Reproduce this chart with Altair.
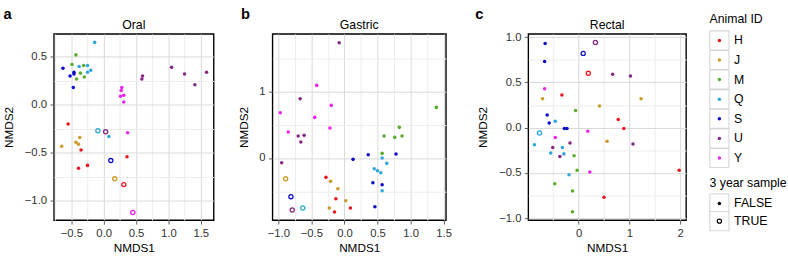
import altair as alt
import pandas as pd

FONT = "Liberation Sans"

animals = ["H", "J", "M", "Q", "S", "U", "Y"]
colors = ["#E8161E", "#CC9A28", "#58AD2A", "#2FA6DC", "#0B0BC8", "#862787", "#EE22EE"]

# ---- Oral (a) ----
oral_animal = ["H", "H", "H", "H", "H", "H",
               "J", "J", "J", "J", "J",
               "M", "M", "M", "M", "M", "M",
               "Q", "Q", "Q", "Q", "Q", "Q", "Q",
               "S", "S", "S", "S", "S", "S",
               "U", "U", "U", "U", "U", "U", "U",
               "Y", "Y", "Y", "Y", "Y", "Y", "Y"]
oral_nmds1 = [-0.55, -0.35, -0.39, -0.25, 0.36, 0.31,
              -0.65, -0.37, -0.43, -0.39, 0.17,
              -0.43, -0.49, -0.31, -0.36, -0.30, -0.42,
              -0.14, -0.38, -0.25, -0.25, -0.20, 0.08, -0.09,
              -0.63, -0.52, -0.46, -0.46, -0.47, 0.11,
              0.60, 0.59, 1.05, 1.25, 1.41, 1.59, 0.03,
              0.28, 0.27, 0.26, 0.31, 0.31, 0.37, 0.45]
oral_nmds2 = [-0.20, -0.47, -0.66, -0.63, -0.54, -0.83,
              -0.43, -0.34, -0.39, -0.41, -0.77,
              0.52, 0.42, 0.41, 0.33, 0.29, 0.27,
              0.65, 0.40, 0.41, 0.34, 0.36, -0.33, -0.27,
              0.38, 0.30, 0.34, 0.32, 0.18, -0.58,
              0.30, 0.27, 0.39, 0.32, 0.21, 0.34, -0.28,
              0.18, 0.15, 0.09, 0.10, 0.03, -0.29, -1.12]
oral_3yr = [False, False, False, False, False, True,
            False, False, False, False, True,
            False, False, False, False, False, False,
            False, False, False, False, False, False, True,
            False, False, False, False, False, True,
            False, False, False, False, False, False, True,
            False, False, False, False, False, False, True]

# ---- Gastric (b) ----
gastric_animal = ["H", "H", "H", "H",
                  "J", "J", "J", "J", "J",
                  "M", "M", "M", "M", "M", "M",
                  "Q", "Q", "Q", "Q", "Q", "Q", "Q",
                  "S", "S", "S", "S", "S", "S", "S",
                  "U", "U", "U", "U", "U", "U", "U",
                  "Y", "Y", "Y", "Y", "Y", "Y"]
gastric_nmds1 = [-0.28, -0.13, -0.15, 0.09,
                 -0.21, -0.10, 0.02, -0.23, -0.89,
                 1.39, 0.83, 0.60, 0.76, 0.87, 0.57,
                 0.57, 0.64, 0.45, 0.50, 0.55, 0.57, -0.63,
                 0.13, 0.36, 0.78, 0.43, 0.57, 0.46, -0.81,
                 -0.08, -0.67, -0.70, -0.61, -0.66, -0.95, -0.79,
                 -0.42, -0.97, -0.20, -0.45, -0.85, -0.22]
gastric_nmds2 = [-0.29, -0.61, -0.81, -0.75,
                 -0.35, -0.46, -0.64, -0.75, -0.31,
                 0.76, 0.46, 0.33, 0.31, 0.33, 0.07,
                 0.00, -0.08, -0.16, -0.19, -0.22, -0.49, -0.75,
                 -0.02, 0.05, 0.06, -0.37, -0.40, -0.73, -0.58,
                 1.73, 0.89, 0.33, 0.34, 0.24, -0.07, -0.78,
                 1.09, 0.68, 0.79, 0.61, 0.39, 0.45]
gastric_3yr = [False, False, False, False,
               False, False, False, False, True,
               False, False, False, False, False, False,
               False, False, False, False, False, False, True,
               False, False, False, False, False, False, True,
               False, False, False, False, False, False, True,
               False, False, False, False, False, False]

# ---- Rectal (c) ----
rectal_animal = ["H", "H", "H", "H", "H", "H",
                 "J", "J", "J", "J",
                 "M", "M", "M", "M", "M", "M",
                 "Q", "Q", "Q", "Q", "Q", "Q", "Q",
                 "S", "S", "S", "S", "S", "S", "S",
                 "U", "U", "U", "U", "U", "U", "U",
                 "Y", "Y", "Y", "Y"]
rectal_nmds1 = [-0.33, 0.78, 0.89, 1.98, 0.50, 0.19,
                -0.71, 1.23, 0.41, 0.56,
                -0.06, -0.09, -0.03, -0.47, -0.12, -0.12,
                -0.46, -0.87, -0.32, -0.55, -0.29, -0.19, -0.77,
                -0.66, -0.67, -0.62, -0.58, -0.28, -0.23, 0.09,
                0.67, 1.02, 1.07, -0.17, -0.51, -0.37, 0.33,
                -0.67, -0.46, 0.18, 0.22]
rectal_nmds2 = [0.36, 0.09, -0.01, -0.47, -0.77, 0.60,
                0.32, 0.32, 0.24, -0.15,
                0.19, -0.31, -0.47, -0.62, -0.70, -0.93,
                0.07, -0.19, -0.22, -0.28, -0.29, -0.52, -0.06,
                0.93, 0.73, 0.14, 0.05, -0.01, -0.01, 0.82,
                0.59, 0.57, -0.18, -0.17, -0.22, -0.32, 0.94,
                0.43, -0.11, -0.04, -0.49]
rectal_3yr = [False, False, False, False, False, True,
              False, False, False, False,
              False, False, False, False, False, False,
              False, False, False, False, False, False, True,
              False, False, False, False, False, False, True,
              False, False, False, False, False, False, True,
              False, False, False, False]

year_levels = ["FALSE", "TRUE"]


def make_axis(title, values, step, fmt):
    test = f"abs(datum.value / {step} - round(datum.value / {step})) < 0.001"
    return alt.Axis(
        title=title,
        values=values,
        grid=True,
        labelExpr=f"({test}) ? format(datum.value, '{fmt}') : ''",
        tickOpacity={"condition": {"test": test, "value": 1}, "value": 0},
        gridColor={"condition": {"test": test, "value": "#D9D9D9"}, "value": "#EDEDED"},
        gridWidth=1,
        labelOverlap=False,
        labelFlush=False,
    )


def panel(animal, n1, n2, yr, letter, letter_dx, title, xdom, ydom,
          xvals, xstep, xfmt, yvals, ystep, yfmt, width):
    df = pd.DataFrame({"animal": animal, "NMDS1": n1, "NMDS2": n2, "three_year": yr})
    base = alt.Chart(df)
    x = alt.X("NMDS1:Q", scale=alt.Scale(domain=xdom, nice=False, zero=False),
              axis=make_axis("NMDS1", xvals, xstep, xfmt))
    y = alt.Y("NMDS2:Q", scale=alt.Scale(domain=ydom, nice=False, zero=False),
              axis=make_axis("NMDS2", yvals, ystep, yfmt))
    color = alt.Color("animal:N", scale=alt.Scale(domain=animals, range=colors), legend=None)
    filled = base.transform_filter("!datum.three_year").mark_circle(
        size=13, opacity=1).encode(x=x, y=y, color=color)
    hollow = base.transform_filter("datum.three_year").mark_point(
        filled=False, size=18, strokeWidth=1.3, opacity=1).encode(x=x, y=y, color=color)
    one = pd.DataFrame({"letter": [letter], "title": [title]})
    lab = alt.Chart(one).mark_text(
        align="left", baseline="alphabetic", fontSize=15, fontWeight="bold",
        font=FONT, color="black").encode(x=alt.value(letter_dx), y=alt.value(-15), text="letter:N")
    ttl = alt.Chart(one).mark_text(
        align="center", baseline="alphabetic", fontSize=12.5, font=FONT,
        color="black").encode(x=alt.value(width / 2), y=alt.value(-5.5), text="title:N")
    return alt.layer(filled, hollow, lab, ttl).properties(width=width, height=190)


pa = panel(oral_animal, oral_nmds1, oral_nmds2, oral_3yr, "a", -51.5, "Oral",
           [-0.77, 1.70], [-1.2, 0.738],
           [-0.75, -0.5, -0.25, 0, 0.25, 0.5, 0.75, 1.0, 1.25, 1.5], 0.5, ".1f",
           [-1.0, -0.75, -0.5, -0.25, 0, 0.25, 0.5], 0.5, ".1f", 163)
pb = panel(gastric_animal, gastric_nmds1, gastric_nmds2, gastric_3yr, "b", -32, "Gastric",
           [-1.089, 1.535], [-0.932, 1.862],
           [-1.0, -0.75, -0.5, -0.25, 0, 0.25, 0.5, 0.75, 1.0, 1.25, 1.5], 0.5, ".1f",
           [-0.5, 0, 0.5, 1.0, 1.5], 1, "d", 177)
pc = panel(rectal_animal, rectal_nmds1, rectal_nmds2, rectal_3yr, "c", -54, "Rectal",
           [-0.992, 2.116], [-1.022, 1.035],
           [-0.5, 0, 0.5, 1.0, 1.5, 2.0], 1, "d",
           [-1.0, -0.75, -0.5, -0.25, 0, 0.25, 0.5, 0.75, 1.0], 0.5, ".1f", 161)

# ---- manual legend (its tiny 1x1 view sits hidden under the first key box) ----
leg_df = pd.DataFrame({"animal": animals})
yr_df = pd.DataFrame({"yr": year_levels})
ya = alt.Y("animal:N", scale=alt.Scale(domain=animals, range=[6.6, 126.6], padding=0), axis=None)
yy = alt.Y("yr:N", scale=alt.Scale(domain=year_levels, range=[173, 191], padding=0), axis=None)
box_style = dict(size=380, filled=True, fill="white", stroke="#D6D6D6", strokeWidth=1.1, opacity=1)
KX = 5     # key centre
LX = 20    # key label start
TX = -5    # legend title start

animal_leg = alt.layer(
    alt.Chart(leg_df).mark_square(**box_style).encode(x=alt.value(KX), y=ya),
    alt.Chart(leg_df).mark_circle(size=13, opacity=1).encode(
        x=alt.value(KX), y=ya,
        color=alt.Color("animal:N", scale=alt.Scale(domain=animals, range=colors), legend=None)),
    alt.Chart(leg_df).mark_text(align="left", baseline="middle", fontSize=12.5, font=FONT,
                                color="black").encode(x=alt.value(LX), y=ya, text="animal:N"),
)
year_leg = alt.layer(
    alt.Chart(yr_df).mark_square(**box_style).encode(x=alt.value(KX), y=yy),
    alt.Chart(yr_df).transform_filter("datum.yr == 'FALSE'").mark_circle(
        size=13, opacity=1, color="black").encode(x=alt.value(KX), y=yy),
    alt.Chart(yr_df).transform_filter("datum.yr == 'TRUE'").mark_point(
        size=18, filled=False, strokeWidth=1.2, opacity=1, color="black").encode(x=alt.value(KX), y=yy),
    alt.Chart(yr_df).mark_text(align="left", baseline="middle", fontSize=12.5, font=FONT,
                               color="black").encode(x=alt.value(LX), y=yy, text="yr:N"),
)
leg_titles = alt.layer(
    alt.Chart(pd.DataFrame({"t": ["Animal ID"]})).mark_text(
        align="left", baseline="alphabetic", fontSize=12.5, font=FONT, color="black").encode(
        x=alt.value(TX), y=alt.value(-10.7), text="t:N"),
    alt.Chart(pd.DataFrame({"t": ["3 year sample"]})).mark_text(
        align="left", baseline="alphabetic", fontSize=12.5, font=FONT, color="black").encode(
        x=alt.value(TX), y=alt.value(156.3), text="t:N"),
)
legend = alt.layer(animal_leg, year_leg, leg_titles).resolve_scale(y="independent").properties(
    width=1, height=1)

chart = alt.hconcat(alt.hconcat(pa, pb, pc, spacing=22), legend, spacing=20).properties(
    padding={"left": 2, "top": 4, "right": 0, "bottom": 0},
    background="white",
).configure_view(stroke="black", strokeWidth=1.4).configure_axis(
    labelFont=FONT, labelFontSize=11.5, labelColor="#333333",
    titleFont=FONT, titleFontSize=12, titleFontWeight="normal", titleColor="black",
    tickColor="#333333", tickSize=4, tickWidth=0.8, domain=False,
).configure_axisX(labelPadding=4, titlePadding=4).configure_axisY(labelPadding=3.5, titlePadding=9)

chart.save("out.html", embed_options={"renderer": "svg", "actions": False})
